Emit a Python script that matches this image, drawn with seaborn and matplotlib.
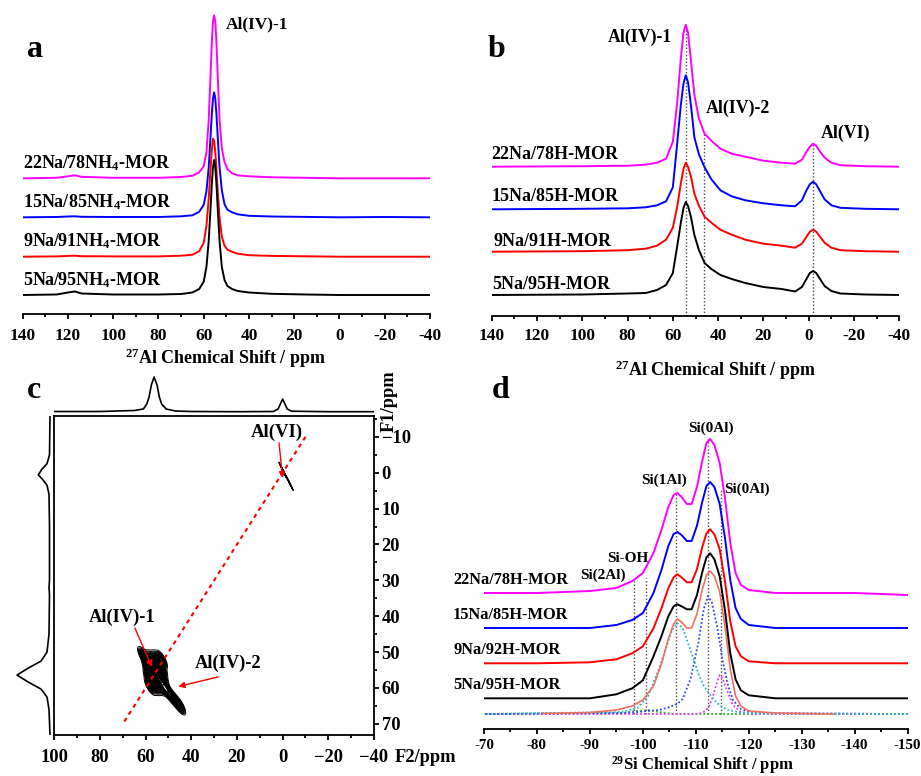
import matplotlib
matplotlib.use("Agg")
import matplotlib.pyplot as plt
from matplotlib.ticker import MultipleLocator
import pandas as pd
import seaborn as sns

# ------------------------------------------------------------------ data
# panel a : 27Al MAS NMR of NH4-MOR samples (intensity above own baseline)
a_ppm = [140, 125, 120, 117, 114, 100, 80, 70, 65, 62, 60, 58.8, 57.8, 57, 56.4, 55.9,
         55.4, 54.9, 54.4, 53.8, 53, 52, 50.8, 49.5, 47.5, 45, 40, 30, 15, 0, -20, -40]
a_22 = [0, 0.5, 2, 3, 1.5, 0.5, 0.5, 1.3, 2.5, 6, 12, 26, 58, 102, 137, 157,
        163, 157, 137, 102, 58, 30, 16, 9, 5, 3, 2, 1, 0.5, 0, 0, 0]
a_15 = [0, 0.3, 0.8, 1, 0.5, 0.3, 0.3, 1, 2, 5.5, 12.5, 26, 50, 80, 104, 119,
        125, 119, 104, 80, 50, 27, 13, 7.5, 5, 3, 1.5, 0.8, 0.4, 0, 0.3, 0]
a_9 = [0, 0.3, 0.8, 1, 0.5, 0.3, 0.3, 1, 2, 5.5, 14, 31, 58, 88, 107, 118,
       116, 105, 88, 65, 39, 20, 11, 7, 5, 3, 1.5, 0.8, 0.4, 0, 0, 0]
a_5 = [0, 0.5, 2.5, 3.5, 1.5, 0.5, 0.5, 1, 2.5, 6, 13.5, 28, 54, 86, 112, 128,
       135, 128, 112, 86, 54, 28, 15, 9, 6, 4, 2.5, 1.2, 0.5, 0, 0, 0]
a_names = ["22Na/78NH$_4$-MOR", "15Na/85NH$_4$-MOR", "9Na/91NH$_4$-MOR", "5Na/95NH$_4$-MOR"]
a_ticks = [140, 120, 100, 80, 60, 40, 20, 0, -20, -40]
a_ticklabels = ["140", "120", "100", "80", "60", "40", "20", "0", "-20", "-40"]

# panel b : 27Al MAS NMR of H-MOR samples
b_ppm = [140, 100, 80, 72, 67, 63, 60, 58, 56.5, 55.3, 54.3, 53.3, 52, 50.5, 48.5, 46, 43,
         39, 34, 28, 20, 12, 6, 3, 1, -0.5, -1.9, -3.3, -5, -7, -10, -14, -25, -40]
b_22 = [0, 0.5, 1, 2, 4, 8, 25, 66, 108, 134, 142, 134, 106, 72, 48, 33, 26,
        18, 13, 10, 6, 4, 3, 7, 15, 20, 23, 21, 15, 9, 4, 1.5, 0.5, 0]
b_15 = [0, 0.5, 1, 2, 4, 8, 22, 68, 104, 126, 134, 127, 104, 72, 55, 42, 30,
        19, 13, 9, 6, 4, 3, 9, 19, 25, 27.6, 25, 18, 10, 4, 1.5, 0.5, 0]
b_9 = [0, 0.5, 1.5, 3, 6, 12, 24, 46, 68, 83, 89, 85, 75, 58, 46, 35, 29,
       22, 17, 12, 8, 6, 4, 8, 15, 20, 22, 20, 15, 9, 4, 1.5, 0.5, 0]
b_5 = [0, 0.5, 1.5, 2, 5, 10, 22, 50, 72, 87, 93, 89, 78, 60, 45, 32, 26,
       20, 16, 12, 8, 6, 3.5, 8, 16, 22, 24, 22, 16, 9, 4, 1.5, 0.5, 0]
b_names = ["22Na/78H-MOR", "15Na/85H-MOR", "9Na/91H-MOR", "5Na/95H-MOR"]
b_ref_ppm = [54.3, 46.2, -1.9]
b_ref_top = [291, 183, 173]

c_iv_f2 = [53, 55, 57, 59, 53, 55, 57, 59, 52.5, 54.5, 56.5, 58.5, 52, 54, 56, 58,
           51, 49, 47, 45, 61]
c_iv_f1 = [52, 52, 52, 52, 54.5, 54.5, 54.5, 54.5, 57, 57, 57, 57, 59.5, 59.5, 59.5, 59.5,
           60.5, 62, 63.5, 65, 51]
c_vi_f2 = [0.5, -0.5, -1.5, -2.5, -3.5]
c_vi_f1 = [-1.5, 0, 1, 2.2, 3.5]
c_top_f2 = [100, 80, 65, 61, 59.5, 58.5, 57.5, 56.3, 55, 54, 53, 51, 47, 40, 20,
            4, 2, 1, 0, -1, -2, -4, -20, -40]
c_top_int = [0.5, 0.5, 1.5, 3, 8, 15, 27, 35, 27, 15, 8, 3, 1, 0.5, 0.3,
             0.5, 3, 8, 13, 8, 3, 0.8, 0.3, 0.3]
c_left_f1 = [-15.8, -5, -2.5, -1, 0.6, 2, 3.5, 6, 15, 30, 32, 34, 45, 50, 52.5,
             54.5, 56.4, 58.3, 60.3, 62.5, 66, 73]
c_left_int = [0, 0.5, 3, 8, 11.7, 7, 3, 1, 0.5, 0.5, 1, 0.5, 1, 3, 9,
              22, 33, 22, 9, 3, 1, 0]
c_diag = [70, -10]
c_xticks = [100, 80, 60, 40, 20, 0, -20, -40]
c_xticklabels = ["100", "80", "60", "40", "20", "0", "\u221220", "\u221240"]
c_yticks = [-10, 0, 10, 20, 30, 40, 50, 60, 70]
c_yticklabels = ["\u221210", "0", "10", "20", "30", "40", "50", "60", "70"]

# panel d : 29Si MAS NMR
d_ppm = [-70, -80, -90, -95, -98, -100, -102, -103.5, -104.8, -105.8, -106.5, -107.3,
         -108.3, -109.2, -110.2, -111.2, -112, -112.7, -113.5, -114.5, -115.5, -116.5,
         -117.5, -118.5, -120, -125, -130, -140, -150]
d_22 = [0, 0, 2, 5, 12, 20, 40, 63, 86, 98, 100, 96, 89, 89, 106, 132, 150, 154, 148,
        130, 95, 50, 20, 8, 3, 0, 0, 0, -2]
d_15 = [0, 0, 0, 3, 8, 15, 35, 58, 82, 94, 96, 93, 87, 87, 102, 126, 142, 146, 141,
        124, 90, 48, 20, 9, 3, 0, 0, 0, 0]
d_9 = [0, 0, 1, 4, 10, 17, 35, 55, 75, 86, 89, 86, 81, 81, 94, 116, 130, 134, 129,
       114, 82, 42, 17, 7, 2, 0, 0, 0, 0]
d_5 = [0, 0, 0, 4, 10, 18, 42, 62, 82, 92, 94, 92, 89, 89, 103, 126, 141, 145, 139,
       122, 88, 45, 19, 8, 3, 0, 0, 0, 0]
d_names = ["22Na/78H-MOR", "15Na/85H-MOR", "9Na/92H-MOR", "5Na/95H-MOR"]
d_fit_ppm = [-81, -90, -95, -98, -100, -102, -103.5, -104.8, -105.8, -106.5, -107.3,
             -108.3, -109.2, -110.2, -111.2, -112, -112.7, -113.5, -114.5, -115.5,
             -116.5, -117.5, -118.5, -120, -125, -136]
d_fit = [0.5, 1.5, 4, 8, 14, 28, 50, 75, 90, 95, 92, 86, 86, 100, 124, 139, 143, 138,
         122, 88, 45, 18, 8, 3, 1, 0]
d_comp_ppm = [-70, -96, -99, -101, -103, -104.5, -105.5, -106.5, -107.5, -109, -110.5,
              -111.5, -112.3, -113, -114, -114.5, -115, -116, -117, -118.5, -121, -150]
d_comp_si1 = [0, 2, 6, 18, 45, 68, 84, 91, 86, 64, 40, 28, 22, 17, 11, 9, 7, 4, 3, 1.5, 0.5, 0]
d_comp_si0a = [0, 1, 2, 3, 4, 6, 8, 10, 15, 35, 72, 105, 118, 112, 88, 72, 55, 30, 14, 5, 1, 0]
d_comp_si0b = [0, 0, 0, 0, 0, 0, 0, 0, 0, 0, 0, 2, 6, 14, 32, 39, 36, 22, 9, 2, 0, 0]
d_comp_sioh = [0, 1, 3, 4, 2, 1, 0, 0, 0, 0, 0, 0, 0, 0, 0, 0, 0, 0, 0, 0, 0, 0]
d_ref_ppm = [-98.3, -100.5, -106.3, -112.2, -114.7]
d_ref_top = [149, 151, 236, 290, 239]
d_ticks = [-70, -80, -90, -100, -110, -120, -130, -140, -150]
d_ticklabels = ["-70", "-80", "-90", "-100", "-110", "-120", "-130", "-140", "-150"]

# ------------------------------------------------------------------ style
sns.set_theme(style="ticks", rc={"axes.edgecolor": "black", "xtick.color": "black",
                                 "ytick.color": "black", "text.color": "black",
                                 "axes.labelcolor": "black"})
plt.rcParams['font.family'] = ['Liberation Serif', 'DejaVu Serif']
plt.rcParams['font.weight'] = 'bold'
plt.rcParams['axes.unicode_minus'] = False
plt.rcParams['mathtext.fontset'] = 'custom'
plt.rcParams['mathtext.rm'] = 'Liberation Serif:bold'
plt.rcParams['mathtext.bf'] = 'Liberation Serif:bold'
plt.rcParams['mathtext.it'] = 'Liberation Serif:italic:bold'
plt.rcParams['mathtext.default'] = 'rm'

COLORS = ["#ff00ff", "#0000ff", "#ff0000", "#000000"]
W, H = 921, 776
fig = plt.figure(figsize=(W / 100, H / 100), dpi=100)


def add_ax(left, top, right, bottom):
    return fig.add_axes([left / W, 1 - bottom / H, (right - left) / W, (bottom - top) / H])


def ftext(x, y, s, **kw):
    kw.setdefault("fontweight", "bold")
    fig.text(x / W, 1 - y / H, s, **kw)


def stack_df(ppm, series, offsets, names):
    rows = []
    for name, vals, off in zip(names, series, offsets):
        for x, v in zip(ppm, vals):
            rows.append((name, x, v + off))
    return pd.DataFrame(rows, columns=["sample", "ppm", "y"])


def style_bottom(ax, xlim, ylim, ticks, labels, minor, size, pad):
    ax.set_xlim(*xlim)
    ax.set_ylim(*ylim)
    ax.set_xticks(ticks)
    ax.set_xticklabels(labels, fontsize=size, fontweight="bold")
    ax.xaxis.set_minor_locator(MultipleLocator(minor))
    ax.set_yticks([])
    for s in ["top", "left", "right"]:
        ax.spines[s].set_visible(False)
    ax.spines["bottom"].set_linewidth(1.3)
    ax.tick_params(axis="x", which="major", direction="out", length=3.5, width=1.3,
                   pad=pad, bottom=True)
    ax.tick_params(axis="x", which="minor", direction="out", length=2.5, width=1.3,
                   bottom=True)
    ax.set_xlabel("")
    ax.set_ylabel("")
    ax.patch.set_alpha(0)


# ------------------------------------------------------------------ panel a
axa = add_ax(22.7, 5, 430, 314)
dfa = stack_df(a_ppm, [a_22, a_15, a_9, a_5], [135.7, 96.7, 57.3, 19], a_names)
sns.lineplot(data=dfa, x="ppm", y="y", hue="sample", palette=dict(zip(a_names, COLORS)),
             estimator=None, legend=False, lw=1.4, ax=axa)
style_bottom(axa, (140, -40), (0, 309), a_ticks, a_ticklabels, 10, 12.5, 6.5)
ftext(26.7, 56.7, "a", fontsize=23)
ftext(257, 28, "Al(IV)-1", fontsize=12.5, ha="center", va="baseline")
for name, yb in zip(a_names, [168.3, 207.3, 246.7, 285.7]):
    ftext(22.7, yb, name, fontsize=13, ha="left", va="baseline")
ftext(225, 364, "$^{27}$Al Chemical Shift / ppm", fontsize=13, ha="center", va="baseline")

# ------------------------------------------------------------------ panel b
axb = add_ax(491.7, 5, 899.3, 316)
dfb = stack_df(b_ppm, [b_22, b_15, b_9, b_5], [149.3, 106.7, 64.3, 21], b_names)
axb.vlines(b_ref_ppm, 0, b_ref_top, colors="0.3", linestyles=(0, (1, 1.5)), lw=1)
sns.lineplot(data=dfb, x="ppm", y="y", hue="sample", palette=dict(zip(b_names, COLORS)),
             estimator=None, legend=False, lw=1.4, ax=axb)
style_bottom(axb, (140, -40), (0, 311), a_ticks, a_ticklabels, 10, 12.5, 5.5)
ftext(488, 57, "b", fontsize=23)
ftext(639.7, 41.7, "Al(IV)-1", fontsize=12.8, ha="center", va="baseline")
ftext(738.3, 113.3, "Al(IV)-2", fontsize=12.8, ha="center", va="baseline")
ftext(845.8, 137.7, "Al(VI)", fontsize=12.8, ha="center", va="baseline")
for name, yb, xl in zip(b_names, [159.3, 201, 245.7, 288.7], [491.7, 491.7, 493, 491.7]):
    ftext(xl, yb, name, fontsize=13, ha="left", va="baseline")
ftext(715, 376, "$^{27}$Al Chemical Shift / ppm", fontsize=13, ha="center", va="baseline")

# ------------------------------------------------------------------ panel c
axc = add_ax(54.3, 416, 374, 735)
sns.kdeplot(x=c_iv_f2, y=c_iv_f1, ax=axc, levels=40, color="black", linewidths=0.7,
            bw_adjust=0.55, thresh=0.03)
sns.kdeplot(x=c_vi_f2, y=c_vi_f1, ax=axc, levels=18, color="black", linewidths=0.7,
            bw_adjust=0.45)
sns.lineplot(x=c_diag, y=c_diag, color="red", linestyle=(0, (2, 2)), lw=1.5, ax=axc)
axc.set_xlim(100, -40)
axc.set_ylim(73.1, -15.8)
axc.set_xticks(c_xticks)
axc.set_xticklabels(c_xticklabels, fontsize=13.3, fontweight="bold")
axc.xaxis.set_minor_locator(MultipleLocator(10))
axc.yaxis.tick_right()
axc.set_yticks(c_yticks)
axc.set_yticklabels(c_yticklabels, fontsize=13.3, fontweight="bold")
axc.yaxis.set_minor_locator(MultipleLocator(5))
axc.tick_params(axis="x", which="major", direction="out", length=3.5, width=1.3, pad=6.5,
                bottom=True, top=False)
axc.tick_params(axis="x", which="minor", direction="out", length=2.5, width=1.3,
                bottom=True, top=False)
axc.tick_params(axis="y", which="major", direction="out", length=3.5, width=1.3, pad=2,
                right=True, left=False)
axc.tick_params(axis="y", which="minor", direction="out", length=2.5, width=1.3,
                right=True, left=False)
for s in axc.spines.values():
    s.set_linewidth(1.3)
axc.set_xlabel("")
axc.set_ylabel("")
arrow = dict(arrowstyle="-|>", color="red", lw=1.0, mutation_scale=9, shrinkA=0, shrinkB=0)
axc.annotate("", xy=(0.0, 1.5), xytext=(1.6, -8.3), arrowprops=arrow)
axc.annotate("", xy=(57.3, 54.1), xytext=(64.7, 43.3), arrowprops=arrow)
axc.annotate("", xy=(45.7, 59.6), xytext=(28.2, 56.9), arrowprops=arrow)

axt = add_ax(54.3, 376, 374, 413)
sns.lineplot(x=c_top_f2, y=c_top_int, color="black", lw=1.2, estimator=None, ax=axt)
axt.set_xlim(100, -40)
axt.set_ylim(-1, 36)
axt.axis("off")

axl = add_ax(10, 416, 52, 735)
sns.lineplot(x=c_left_int, y=c_left_f1, orient="y", color="black", lw=1.2, estimator=None, ax=axl)
axl.set_xlim(40, -2)
axl.set_ylim(73.1, -15.8)
axl.axis("off")

ftext(26.7, 398, "c", fontsize=23)
ftext(276.7, 436.7, "Al(VI)", fontsize=13.5, ha="center", va="baseline")
ftext(121.7, 622.3, "Al(IV)-1", fontsize=13.3, ha="center", va="baseline")
ftext(228, 668.3, "Al(IV)-2", fontsize=13.3, ha="center", va="baseline")
ftext(395, 761.7, "F2/ppm", fontsize=13.3, ha="left", va="baseline")
ftext(389, 401, "F1/ppm", fontsize=13.3, ha="center", va="center", rotation=90)

# ------------------------------------------------------------------ panel d
axd = add_ax(484, 400, 907.7, 729)
axd.vlines(d_ref_ppm, 15, d_ref_top, colors="0.3", linestyles=(0, (1, 1.5)), lw=1)
comp_specs = [(d_comp_sioh, "#22bb22"), (d_comp_si0b, "#ee33ee"),
              (d_comp_si0a, "#3344ee"), (d_comp_si1, "#33b5cc")]
for vals, col in comp_specs:
    sns.lineplot(x=d_comp_ppm, y=[v + 15 for v in vals], color=col, linestyle=(0, (1, 1.2)),
                 lw=1.3, estimator=None, ax=axd)
sns.lineplot(x=d_fit_ppm, y=[v + 15 for v in d_fit], color="#f07060", lw=1.2,
             estimator=None, ax=axd)
dfd = stack_df(d_ppm, [d_22, d_15, d_9, d_5], [136, 101, 65.7, 30.7], d_names)
sns.lineplot(data=dfd, x="ppm", y="y", hue="sample", palette=dict(zip(d_names, COLORS)),
             estimator=None, legend=False, lw=1.4, ax=axd)
style_bottom(axd, (-70, -150), (0, 329), d_ticks, d_ticklabels, 5, 10.8, 4)
ftext(491.7, 398, "d", fontsize=23)
ftext(711, 431.7, "Si(0Al)", fontsize=11, ha="center", va="baseline")
ftext(664, 484.3, "Si(1Al)", fontsize=11, ha="center", va="baseline")
ftext(747, 493.3, "Si(0Al)", fontsize=11, ha="center", va="baseline")
ftext(628, 561.7, "Si-OH", fontsize=11, ha="center", va="baseline")
ftext(603, 579.3, "Si(2Al)", fontsize=11, ha="center", va="baseline")
for name, yb in zip(d_names, [584.3, 619, 654, 689]):
    ftext(453, yb, name, fontsize=11.8, ha="left", va="baseline")
ftext(702.5, 769.5, "$^{29}$Si Chemical Shift / ppm", fontsize=12, ha="center", va="baseline")

fig.savefig("out.png", dpi=100)
